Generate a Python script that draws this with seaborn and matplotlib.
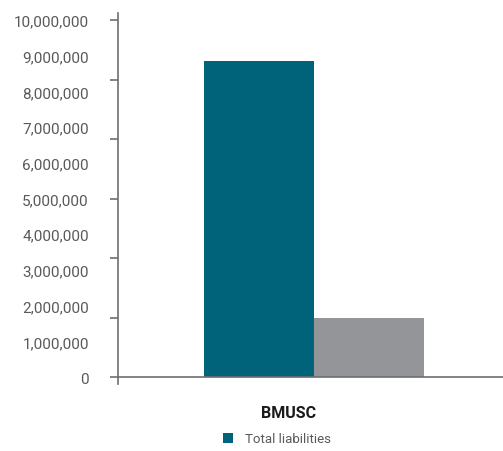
import matplotlib
matplotlib.use("Agg")
import matplotlib.pyplot as plt
import matplotlib.font_manager as fm
import matplotlib.transforms as mtransforms
from matplotlib.ticker import FixedLocator, FuncFormatter
from matplotlib.patches import Patch
import seaborn as sns
import pandas as pd
import numpy as np

categories = ["BMUSC"]
series_names = ["Total liabilities", "Total equity"]
series_values = [8850000, 1650000]
legend_labels = ["Total liabilities"]
y_ticks = [0, 1000000, 2000000, 3000000, 4000000, 5000000,
           6000000, 7000000, 8000000, 9000000, 10000000]
colors = ["#00637a", "#939598"]

sns.set_theme(style="white")
avail = {f.name for f in fm.fontManager.ttflist}
fam = "Liberation Sans Narrow" if "Liberation Sans Narrow" in avail else "Roboto"
plt.rcParams["font.family"] = [fam, "DejaVu Sans"]

df = pd.DataFrame({"category": categories * len(series_names),
                   "series": series_names,
                   "value": series_values})

fig = plt.figure(figsize=(5.03, 4.52), dpi=100)
ax = fig.add_axes([118/503, 1 - 385/452, 1 - 118/503, (385 - 14)/452])

sns.barplot(data=df, x="category", y="value", hue="series",
            palette=colors, width=0.8, saturation=1, legend=False,
            linewidth=0, ax=ax)

ax.set_ylim(-7/35.7*1e6, 10e6 + 7/35.7*1e6)
ax.set_xlim(-196/275, 189/275)

for s in ["top", "right"]:
    ax.spines[s].set_visible(False)
ax.spines["bottom"].set_position(("data", 0))
ax.spines["left"].set_color("#6d6e71")
ax.spines["bottom"].set_color("#6d6e71")
ax.spines["left"].set_linewidth(1.2)
ax.spines["bottom"].set_linewidth(1.2)

ax.yaxis.remove_overlapping_locs = False
ax.yaxis.set_major_locator(FixedLocator(y_ticks))
ax.yaxis.set_major_formatter(FuncFormatter(lambda v, p: f"{int(v):,}"))
ax.yaxis.set_minor_locator(FixedLocator(np.linspace(y_ticks[0], y_ticks[-1], 7)))
ax.tick_params(axis="y", which="major", length=0, pad=21, labelsize=11,
               labelcolor="#58595b", left=True)
ax.tick_params(axis="y", which="minor", length=6, width=1.2, color="#6d6e71",
               direction="out", left=True)
ax.tick_params(axis="x", length=0, pad=20)
offset = mtransforms.ScaledTranslation(-25/100, 0, fig.dpi_scale_trans)
for lbl in ax.get_xticklabels():
    lbl.set_fontweight("bold")
    lbl.set_fontsize(11.5)
    lbl.set_color("#1a1a1a")
    lbl.set_transform(lbl.get_transform() + offset)
ax.set_xlabel("")
ax.set_ylabel("")
ax.grid(False)

handles = [Patch(facecolor=colors[0], edgecolor="none")]
fig.legend(handles, legend_labels, loc="center", bbox_to_anchor=(277/503, 1 - 440/452),
           frameon=False, fontsize=9.5, handlelength=0.7, handleheight=0.7,
           handletextpad=0.9, labelcolor="#58595b")

fig.savefig("out.png", dpi=100)
